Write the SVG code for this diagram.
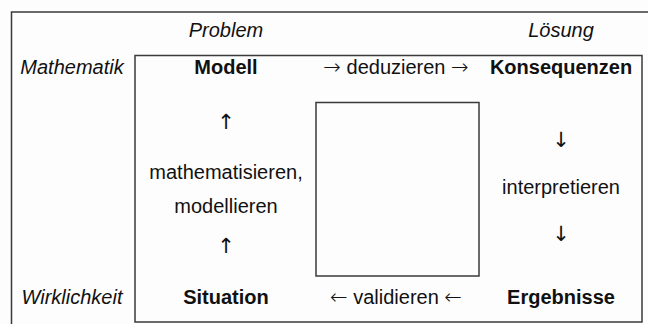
<svg xmlns="http://www.w3.org/2000/svg" width="648" height="324" viewBox="0 0 648 324">
<style>
text{font-family:"Liberation Sans",Arial,sans-serif;font-size:20px;fill:#111;text-anchor:middle}
.i{font-style:italic}
.b{font-weight:bold}
.a{font-family:"DejaVu Sans",sans-serif;font-size:21px}
.h{font-weight:200}
.frame{fill:none;stroke:#3a3a3a;stroke-width:1.5}
</style>
<rect width="648" height="324" fill="#fdfdfd"/>
<g id="frame">
<polyline class="frame" points="11.5,324 11.5,12 648,12"/>
<rect class="frame" x="135" y="55.5" width="507" height="266.5"/>
<rect class="frame" x="316" y="102.5" width="163" height="173.5"/>
</g>
<g id="headers">
<text class="i" x="226" y="37">Problem</text>
<text class="i" x="561" y="37">Lösung</text>
<text class="i" x="72" y="74">Mathematik</text>
<text class="i" x="72" y="304">Wirklichkeit</text>
</g>
<g id="modell"><text class="b" x="226" y="74">Modell</text></g>
<g id="konsequenzen"><text class="b" x="561" y="74">Konsequenzen</text></g>
<g id="situation"><text class="b" x="226" y="304">Situation</text></g>
<g id="ergebnisse"><text class="b" x="561" y="304">Ergebnisse</text></g>
<g id="connectors">
<text x="396" y="74"><tspan class="a h">→</tspan> deduzieren <tspan class="a h">→</tspan></text>
<text x="396" y="304"><tspan class="a h">←</tspan> validieren <tspan class="a h">←</tspan></text>
<text class="a" x="226" y="128.5">↑</text>
<text x="226" y="179">mathematisieren,</text>
<text x="226" y="213">modellieren</text>
<text class="a" x="226" y="252.5">↑</text>
<text class="a" x="561" y="146.5">↓</text>
<text x="561" y="194">interpretieren</text>
<text class="a" x="561" y="240.5">↓</text>
</g>
</svg>
